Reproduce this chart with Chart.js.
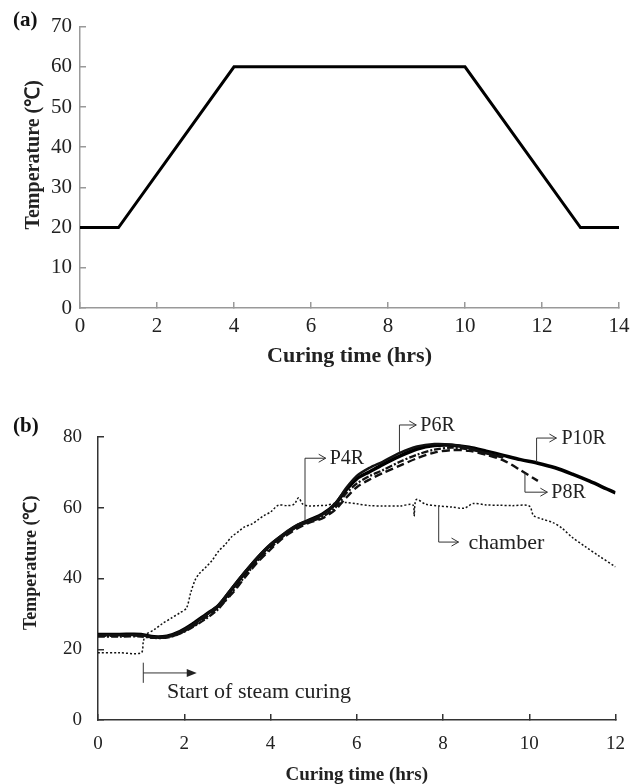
<!DOCTYPE html>
<html>
<head>
<meta charset="utf-8">
<script src="https://cdn.jsdelivr.net/npm/chart.js@4.4.0/dist/chart.umd.min.js"></script>
<style>
html, body { margin: 0; padding: 0; background: #fff; overflow: hidden; }
#wrapA { position: absolute; left: 0; top: 0; width: 644px; height: 390px; }
#wrapB { position: absolute; left: 0; top: 390px; width: 644px; height: 400px; }
</style>
</head>
<body>
<div id="wrapA"><canvas id="chartA"></canvas></div>
<div id="wrapB"><canvas id="chartB"></canvas></div>
<script>
// (a) curing schedule
const schedTime = [0, 1, 4, 10, 13, 14];
const schedTemp = [20, 20, 60, 60, 20, 20];

// (b) measured temperatures
const chamberTime = [0, 0.5, 1.0, 1.05, 1.1, 1.3, 1.5, 1.7, 1.9, 2.05, 2.15, 2.25, 2.35, 2.5, 2.65, 2.8, 2.95, 3.1, 3.25, 3.4, 3.55, 3.7, 3.85, 4.0, 4.18, 4.4, 4.55, 4.65, 4.75, 4.9, 5.1, 5.3, 5.5, 5.75, 6.0, 6.3, 6.6, 7.0, 7.3, 7.33, 7.38, 7.6, 7.9, 8.2, 8.5, 8.7, 9.0, 9.3, 9.6, 10.0, 10.1, 10.3, 10.55, 10.75, 11.0, 11.3, 11.6, 12.0];
const chamberTemp = [19, 19, 19, 22, 24, 25.5, 27.3, 28.8, 30.3, 31.6, 36, 39.5, 41.4, 43.2, 45.2, 47.8, 49.6, 51.8, 53.2, 54.6, 55.3, 56.5, 57.8, 58.8, 60.7, 60.6, 61, 62.8, 61, 60.5, 60.6, 60.7, 61.3, 61.5, 61.1, 60.6, 60.5, 60.5, 60.8, 57.6, 62.3, 61, 60.5, 60.2, 59.9, 61.2, 60.8, 60.7, 60.6, 60.5, 57.8, 56.8, 55.8, 54.3, 51.6, 49, 46.5, 43.3];

const probeTime = [0, 0.5, 1.0, 1.3, 1.6, 1.9, 2.2, 2.5, 2.8, 3.1, 3.4, 3.7, 4.0, 4.3, 4.6, 4.9, 5.2, 5.5, 5.75, 6.0, 6.3, 6.6, 7.0, 7.4, 7.8, 8.2, 8.6, 9.0, 9.4, 9.8, 10.2, 10.6, 11.0, 11.4, 11.8, 12.0];
const p4rTemp  = [23.6, 23.6, 23.6, 23.2, 23.3, 24.4, 26.3, 28.6, 31.5, 36, 40.5, 45, 48.6, 52, 54.5, 56, 57.4, 60, 64, 66.8, 69, 70.6, 73, 75, 76.4, 77, 76.5, 75.5, 74.6];
const p6rTemp  = [24, 24, 24, 23.4, 23.6, 24.9, 27, 29.6, 32.6, 37.2, 41.8, 46, 49.6, 52.6, 55, 56.4, 58, 61.2, 65.5, 69, 71.3, 73, 75.5, 77.3, 78, 77.8, 76.9, 75.4, 74.2];
const p8rTemp  = [23.8, 23.8, 23.8, 23.3, 23.4, 24.5, 26.5, 29, 32, 35.6, 40.2, 44.6, 48.2, 51.6, 54, 55.8, 57, 59.4, 62.8, 65.8, 68, 69.8, 71.9, 74, 75.6, 76.3, 76.1, 75, 73.4, 70.6, 67.6];
const p10rTemp = [24.2, 24.2, 24.2, 23.5, 23.7, 25, 27.2, 29.8, 32.4, 37, 41.5, 45.8, 49.5, 52.3, 54.8, 56.5, 58.2, 61, 65, 68.2, 70.2, 72.2, 74.6, 76.6, 77.6, 77.7, 77.1, 76, 74.8, 73.6, 72.6, 71.3, 69.5, 67.5, 65.3, 64.2];

const xTicksA = [0, 2, 4, 6, 8, 10, 12, 14];
const yTicksA = [0, 10, 20, 30, 40, 50, 60, 70];
const xTicksB = [0, 2, 4, 6, 8, 10, 12];
const yTicksB = [0, 20, 40, 60, 80];

const SERIF = "'Liberation Serif', 'Times New Roman', serif";

function pts(xs, ys) {
    return ys.map((v, i) => ({ x: xs[i], y: v }));
}

function axisOpts(o) {
    return {
        type: 'linear',
        min: o.min, max: o.max,
        afterBuildTicks: s => { s.ticks = o.ticks.map(v => ({ value: v })); },
        afterFit: s => { if (o.width) s.width = o.width; if (o.height) s.height = o.height; },
        border: { color: o.color, width: 1.5 },
        grid: { drawOnChartArea: false, drawTicks: true, tickLength: -6, color: o.color, lineWidth: 1.5 },
        ticks: { color: '#222', font: { family: SERIF, size: o.tickSize }, padding: o.tickPad, maxRotation: 0 },
        title: { display: true, text: o.title, color: '#222', font: { family: SERIF, size: o.titleSize, weight: 'bold' }, padding: o.titlePad }
    };
}

// panel letter "(a)" / "(b)"
const panelLabel = {
    id: 'panelLabel',
    afterDraw(chart, args, opts) {
        const ctx = chart.ctx;
        ctx.save();
        ctx.fillStyle = '#111';
        ctx.font = 'bold 21px ' + SERIF;
        ctx.textBaseline = 'middle';
        ctx.fillText(opts.text, opts.x, opts.y);
        ctx.restore();
    }
};

// leader arrows and their labels in data coordinates
const notesB = [
    { text: 'P4R', x0: 4.8, y0: 56.5, y1: 74, x2: 5.28, size: 20, gap: 4 },
    { text: 'P6R', x0: 6.99, y0: 75.7, y1: 83.4, x2: 7.38, size: 20, gap: 4 },
    { text: 'P10R', x0: 10.17, y0: 72.9, y1: 79.7, x2: 10.63, size: 20, gap: 5 },
    { text: 'P8R', x0: 9.9, y0: 69.8, y1: 64.4, x2: 10.42, size: 20, gap: 4 },
    { text: 'chamber', x0: 7.9, y0: 60.4, y1: 50.3, x2: 8.36, size: 22, gap: 10 }
];

const notePlugin = {
    id: 'notes',
    afterDraw(chart) {
        const ctx = chart.ctx, sx = chart.scales.x, sy = chart.scales.y;
        ctx.save();
        ctx.strokeStyle = '#333';
        ctx.fillStyle = '#222';
        ctx.lineWidth = 1;
        ctx.textBaseline = 'middle';
        notesB.forEach(n => {
            const x0 = sx.getPixelForValue(n.x0), y0 = sy.getPixelForValue(n.y0);
            const y1 = sy.getPixelForValue(n.y1), x2 = sx.getPixelForValue(n.x2);
            ctx.beginPath();
            ctx.moveTo(x0, y0);
            ctx.lineTo(x0, y1);
            ctx.lineTo(x2, y1);
            ctx.moveTo(x2 - 7, y1 - 4);
            ctx.lineTo(x2, y1);
            ctx.lineTo(x2 - 7, y1 + 4);
            ctx.stroke();
            ctx.font = n.size + 'px ' + SERIF;
            ctx.fillText(n.text, x2 + n.gap, y1 + 1);
        });
        // start of steam curing marker
        const xs = sx.getPixelForValue(1.05), xe = sx.getPixelForValue(2.29);
        const ya = sy.getPixelForValue(13.3), yt = sy.getPixelForValue(16.2), yb = sy.getPixelForValue(10.5);
        ctx.beginPath();
        ctx.moveTo(xs, yt); ctx.lineTo(xs, yb);
        ctx.moveTo(xs, ya); ctx.lineTo(xe - 8, ya);
        ctx.stroke();
        ctx.beginPath();
        ctx.moveTo(xe, ya); ctx.lineTo(xe - 10, ya - 4); ctx.lineTo(xe - 10, ya + 4); ctx.closePath();
        ctx.fill();
        ctx.font = '22px ' + SERIF;
        ctx.fillText('Start of steam curing', sx.getPixelForValue(1.6), sy.getPixelForValue(7.9));
        ctx.restore();
    }
};

new Chart(document.getElementById('chartA'), {
    type: 'line',
    data: {
        datasets: [{
            data: pts(schedTime, schedTemp),
            borderColor: '#000', borderWidth: 3, pointRadius: 0, tension: 0,
            borderJoinStyle: 'miter'
        }]
    },
    options: {
        responsive: true, maintainAspectRatio: false, animation: false,
        layout: { padding: { left: 0, right: 25, top: 24, bottom: 0 } },
        plugins: { legend: { display: false }, tooltip: { enabled: false }, panelLabel: { text: '(a)', x: 13, y: 21 } },
        scales: {
            x: axisOpts({ min: 0, max: 14, ticks: xTicksA, height: 82, color: '#999', tickSize: 21, tickPad: 12,
                          title: 'Curing time (hrs)', titleSize: 22, titlePad: { top: 0, bottom: 20 } }),
            y: axisOpts({ min: 0, max: 70, ticks: yTicksA, width: 80, color: '#999', tickSize: 21, tickPad: 14,
                          title: '     Temperature (℃)', titleSize: 20, titlePad: { top: 22, bottom: 0 } })
        }
    },
    plugins: [panelLabel]
});

new Chart(document.getElementById('chartB'), {
    type: 'line',
    data: {
        datasets: [
            { label: 'chamber', data: pts(chamberTime, chamberTemp), borderColor: '#111', borderWidth: 1.5, borderDash: [2, 2] },
            { label: 'P4R', data: pts(probeTime, p4rTemp), borderColor: '#111', borderWidth: 2.3, borderDash: [7, 2, 2, 2] },
            { label: 'P8R', data: pts(probeTime, p8rTemp), borderColor: '#111', borderWidth: 2.4, borderDash: [8, 4] },
            { label: 'P6R', data: pts(probeTime, p6rTemp), borderColor: '#111', borderWidth: 2.5 },
            { label: 'P10R', data: pts(probeTime, p10rTemp), borderColor: '#000', borderWidth: 3.5 }
        ].map(d => Object.assign(d, { pointRadius: 0, tension: 0.3, fill: false }))
    },
    options: {
        responsive: true, maintainAspectRatio: false, animation: false,
        layout: { padding: { left: 0, right: 22, top: 47, bottom: 0 } },
        plugins: { legend: { display: false }, tooltip: { enabled: false }, panelLabel: { text: '(b)', x: 13, y: 37 } },
        scales: {
            x: axisOpts({ min: 0, max: 12, ticks: xTicksB, height: 70, color: '#333', tickSize: 19, tickPad: 19,
                          title: 'Curing time (hrs)', titleSize: 19, titlePad: { top: 0, bottom: 4 } }),
            y: axisOpts({ min: 0, max: 80, ticks: yTicksB, width: 98, color: '#333', tickSize: 19, tickPad: 22,
                          title: '       Temperature (℃)', titleSize: 18, titlePad: { top: 21, bottom: 0 } })
        }
    },
    plugins: [panelLabel, notePlugin]
});
</script>
</body>
</html>
